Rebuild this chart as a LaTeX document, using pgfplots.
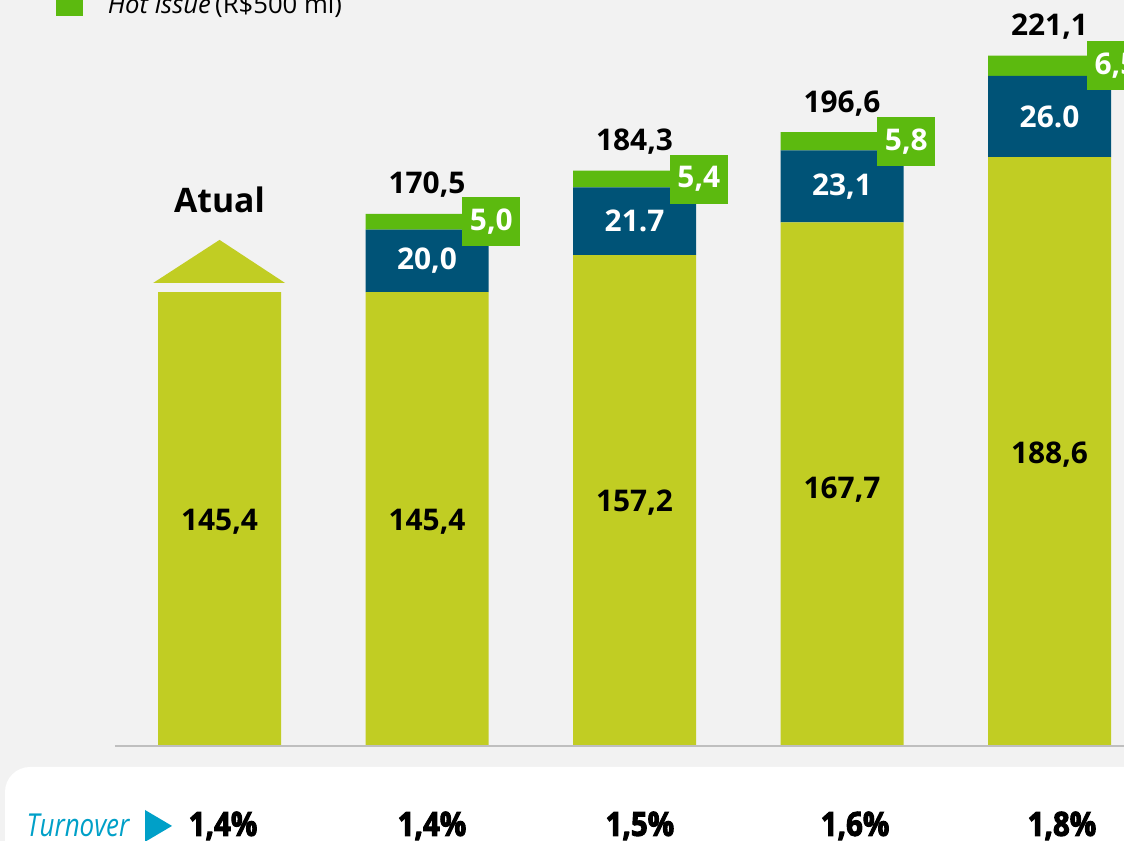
\documentclass[border=0pt]{standalone}
\usepackage{pgfplots}
\pgfplotsset{compat=1.18}
\usepackage{fontspec}
\setmainfont{Open Sans}
\newfontfamily\condfont[FakeStretch=0.82]{Open Sans}
\newfontfamily\heavyfont[FakeStretch=0.88,BoldFeatures={FakeBold=3}]{Open Sans}
\definecolor{bgc}{HTML}{F2F2F2}
\definecolor{limeC}{HTML}{C1CD23}
\definecolor{navyC}{HTML}{005377}
\definecolor{hotC}{HTML}{5CBA0F}
\definecolor{cyanT}{HTML}{00A0C8}
\tikzset{
  lab/.style={font=\bfseries\fontsize{8.5}{10}\selectfont, text=black},
  wlab/.style={font=\bfseries\fontsize{8.5}{10}\selectfont, text=white},
  gbox/.style={font=\bfseries\fontsize{8.5}{10}\selectfont, text=white, fill=hotC, minimum width=0.58cm, minimum height=0.49cm, inner sep=0pt},
  tot/.style={font=\bfseries\fontsize{8.5}{10}\selectfont, text=black, yshift=0.29cm},
  pct/.style={font=\heavyfont\bfseries\fontsize{9.5}{11}\selectfont, text=black}
}
\begin{document}
\begin{tikzpicture}
\useasboundingbox (0,0) rectangle (11.24cm,8.41cm);
\clip (0,0) rectangle (11.24cm,8.41cm);
\fill[bgc] (0,0) rectangle (11.24cm,8.41cm);
\fill[white, rounded corners=0.25cm] (0.05cm,-0.5cm) rectangle (11.8cm,0.74cm);
\begin{axis}[at={(0,0)}, anchor=south west, scale only axis,
  width=11.24cm, height=8.41cm,
  xmin=-1.058, xmax=4.359, ymin=-30.43, ymax=238.95,
  axis lines=none, clip=false,
  ybar stacked, bar width=1.23cm]
\addplot[fill=limeC, draw=none] coordinates {(0,145.4) (1,145.4) (2,157.2) (3,167.7) (4,188.6)};
\addplot[fill=navyC, draw=none] coordinates {(0,0) (1,20.0) (2,21.7) (3,23.1) (4,26.0)};
\addplot[fill=hotC, draw=none] coordinates {(0,0) (1,5.0) (2,5.4) (3,5.8) (4,6.5)};
\coordinate (bl1) at (axis cs:-0.504,0);
\coordinate (bl2) at (axis cs:4.5,0);
\coordinate (ar1) at (axis cs:-0.32,148.3);
\coordinate (ar2) at (axis cs:0,162.1);
\coordinate (ar3) at (axis cs:0.316,148.3);
\coordinate (atual) at (axis cs:0,174.9);
\coordinate (l0) at (axis cs:0,71.7);
\coordinate (l1) at (axis cs:1,71.7);
\coordinate (l2) at (axis cs:2,77.8);
\coordinate (l3) at (axis cs:3,82.0);
\coordinate (l4) at (axis cs:4,93.2);
\coordinate (n1) at (axis cs:1,155.4);
\coordinate (n2) at (axis cs:2,168.05);
\coordinate (n3) at (axis cs:3,179.25);
\coordinate (n4) at (axis cs:4,201.6);
\coordinate (g1) at (axis cs:1.31,167.9);
\coordinate (g2) at (axis cs:2.31,181.6);
\coordinate (g3) at (axis cs:3.31,193.7);
\coordinate (g4) at (axis cs:4.32,217.85);
\coordinate (t1) at (axis cs:1,170.5);
\coordinate (t2) at (axis cs:2,184.3);
\coordinate (t3) at (axis cs:3,196.6);
\coordinate (t4) at (axis cs:4,221.1);
\coordinate (lg1) at (axis cs:-0.788,233.8);
\coordinate (lg2) at (axis cs:-0.658,242.5);
\coordinate (lgt) at (axis cs:-0.542,234.6);
\coordinate (tv) at (axis cs:-0.682,-25.4);
\coordinate (tr1) at (axis cs:-0.359,-20.5);
\coordinate (tr2) at (axis cs:-0.229,-25.6);
\coordinate (tr3) at (axis cs:-0.359,-30.7);
\coordinate (p0) at (axis cs:0.017,-25.6);
\coordinate (p1) at (axis cs:1.024,-25.6);
\coordinate (p2) at (axis cs:2.026,-25.6);
\coordinate (p3) at (axis cs:3.063,-25.6);
\coordinate (p4) at (axis cs:4.06,-25.6);
\end{axis}
\draw[color=black!25, line width=0.6pt] (bl1) -- (bl2);
\fill[limeC] (ar1) -- (ar2) -- (ar3) -- cycle;
\node[font=\bfseries\fontsize{9.6}{11}\selectfont] at (atual) {Atual};
\node[lab] at (l0) {145,4};
\node[lab] at (l1) {145,4};
\node[lab] at (l2) {157,2};
\node[lab] at (l3) {167,7};
\node[lab] at (l4) {188,6};
\node[wlab] at (n1) {20,0};
\node[wlab] at (n2) {21.7};
\node[wlab] at (n3) {23,1};
\node[wlab] at (n4) {26.0};
\node[gbox] at (g1) {5,0};
\node[gbox] at (g2) {5,4};
\node[gbox] at (g3) {5,8};
\node[gbox] at (g4) {6,5};
\node[tot] at (t1) {170,5};
\node[tot] at (t2) {184,3};
\node[tot] at (t3) {196,6};
\node[tot] at (t4) {221,1};
\fill[hotC] (lg1) rectangle (lg2);
\node[anchor=base west, inner sep=0pt, font=\fontsize{7.3}{9}\selectfont] at (lgt) {\textit{Hot issue}\,(R\$500 mi)};
\node[font=\condfont\itshape\fontsize{9}{11}\selectfont, text=cyanT] at (tv) {Turnover};
\fill[cyanT] (tr1) -- (tr2) -- (tr3) -- cycle;
\node[pct] at (p0) {1,4\%};
\node[pct] at (p1) {1,4\%};
\node[pct] at (p2) {1,5\%};
\node[pct] at (p3) {1,6\%};
\node[pct] at (p4) {1,8\%};
\end{tikzpicture}
\end{document}
